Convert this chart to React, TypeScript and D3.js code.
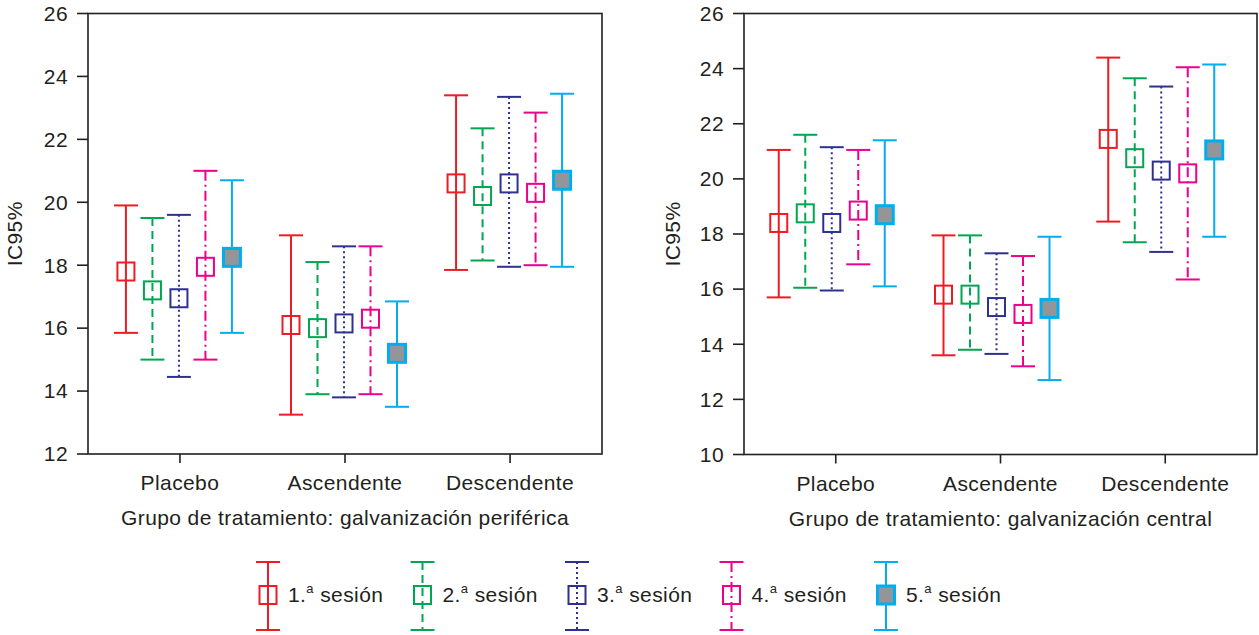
import React from "react";
import * as d3 from "d3";

const categories = ["Placebo", "Ascendente", "Descendente"];
const sessionNums = ["1.", "2.", "3.", "4.", "5."];
const sessions = ["1.ª sesión", "2.ª sesión", "3.ª sesión", "4.ª sesión", "5.ª sesión"];
const colors = ["#ED1C24", "#00A651", "#2E3192", "#EC008C", "#00AEEF"];
const dashes = ["none", "8,5", "2,3", "10,4,2,4", "none"];

// Left panel: galvanización periférica (rows = session, cols = category)
const leftMean = [
  [17.8, 16.1, 20.6],
  [17.2, 16.0, 20.2],
  [16.95, 16.15, 20.6],
  [17.95, 16.3, 20.3],
  [18.25, 15.2, 20.7],
];
const leftLow = [
  [15.85, 13.25, 17.85],
  [15.0, 13.9, 18.15],
  [14.45, 13.8, 17.95],
  [15.0, 13.9, 18.0],
  [15.85, 13.5, 17.95],
];
const leftHigh = [
  [19.9, 18.95, 23.4],
  [19.5, 18.1, 22.35],
  [19.6, 18.6, 23.35],
  [21.0, 18.6, 22.85],
  [20.7, 16.85, 23.45],
];

// Right panel: galvanización central
const rightMean = [
  [18.4, 15.8, 21.45],
  [18.75, 15.8, 20.75],
  [18.4, 15.35, 20.3],
  [18.85, 15.1, 20.2],
  [18.7, 15.3, 21.05],
];
const rightLow = [
  [15.7, 13.6, 18.45],
  [16.05, 13.8, 17.7],
  [15.95, 13.65, 17.35],
  [16.9, 13.2, 16.35],
  [16.1, 12.7, 17.9],
];
const rightHigh = [
  [21.05, 17.95, 24.4],
  [21.6, 17.95, 23.65],
  [21.15, 17.3, 23.35],
  [21.05, 17.2, 24.05],
  [21.4, 17.9, 24.15],
];

const leftTicks = [12, 14, 16, 18, 20, 22, 24, 26];
const rightTicks = [10, 12, 14, 16, 18, 20, 22, 24, 26];

const FONT = "'Liberation Sans', Arial, Helvetica, sans-serif";
const FS = 21;
const LS = 0.4;
const AXIS = "#231F20";
const BOX_W = 17;
const BOX_H = 18;
const CAP_W = 24;

function Glyph({ i, x, yTop, yMid, yBot }: { i: number; x: number; yTop: number; yMid: number; yBot: number }) {
  const c = colors[i];
  const filled = i === 4;
  return (
    <g>
      <line x1={x} x2={x} y1={yTop} y2={yBot} stroke={c} strokeWidth={2} strokeDasharray={dashes[i]} />
      <line x1={x - CAP_W / 2} x2={x + CAP_W / 2} y1={yTop} y2={yTop} stroke={c} strokeWidth={2} />
      <line x1={x - CAP_W / 2} x2={x + CAP_W / 2} y1={yBot} y2={yBot} stroke={c} strokeWidth={2} />
      <rect
        x={x - BOX_W / 2}
        y={yMid - BOX_H / 2}
        width={BOX_W}
        height={BOX_H}
        fill={filled ? "#939598" : "none"}
        stroke={c}
        strokeWidth={filled ? 3 : 2}
      />
    </g>
  );
}

function Panel({
  left, right, top, bottom, domain, ticks, mean, low, high, title, ylabX, shift,
}: {
  left: number; right: number; top: number; bottom: number; domain: [number, number]; ticks: number[];
  mean: number[][]; low: number[][]; high: number[][]; title: string; ylabX: number; shift: number;
}) {
  const y = d3.scaleLinear().domain(domain).range([bottom, top]);
  const x = d3.scalePoint<string>().domain(categories).range([left, right]).padding(0.557);
  const off = d3.scalePoint<string>().domain(sessions).range([-53 + shift, 53 + shift]);
  return (
    <g fontFamily={FONT} letterSpacing={LS}>
      {sessions.map((s, i) =>
        categories.map((c, j) => (
          <Glyph
            key={s + c}
            i={i}
            x={(x(c) as number) + (off(s) as number)}
            yTop={y(high[i][j])}
            yMid={y(mean[i][j])}
            yBot={y(low[i][j])}
          />
        ))
      )}
      <rect x={left} y={top} width={right - left} height={bottom - top} fill="none" stroke={AXIS} strokeWidth={1.6} />
      {ticks.map((t) => (
        <g key={t}>
          <line x1={left - 11} x2={left} y1={y(t)} y2={y(t)} stroke={AXIS} strokeWidth={1.6} />
          <text x={left - 20} y={y(t)} dy="0.35em" textAnchor="end" fontSize={FS} fill={AXIS}>
            {t}
          </text>
        </g>
      ))}
      {categories.map((c) => (
        <g key={c}>
          <line x1={x(c)} x2={x(c)} y1={bottom} y2={bottom + 9} stroke={AXIS} strokeWidth={1.6} />
          <text x={x(c)} y={bottom + 36} textAnchor="middle" fontSize={FS} fill={AXIS}>
            {c}
          </text>
        </g>
      ))}
      <text x={(left + right) / 2} y={bottom + 71} textAnchor="middle" fontSize={FS} fill={AXIS}>
        {title}
      </text>
      <text
        transform={`translate(${ylabX},${(top + bottom) / 2}) rotate(-90)`}
        textAnchor="middle"
        dy="0.35em"
        fontSize={FS}
        fill={AXIS}
      >
        IC95%
      </text>
    </g>
  );
}

export default function App() {
  const legX = d3.scaleLinear().domain([0, 4]).range([268, 886]);
  return (
    <svg width={1259} height={635} style={{ position: "absolute", left: 0, top: 0, background: "#fff" }}>
      <rect width={1259} height={635} fill="#fff" />
      <Panel
        left={88} right={602} top={13.5} bottom={454}
        domain={[12, 26]} ticks={leftTicks}
        mean={leftMean} low={leftLow} high={leftHigh}
        title="Grupo de tratamiento: galvanización periférica" ylabX={15} shift={-1}
      />
      <Panel
        left={744} right={1257} top={13.5} bottom={454.5}
        domain={[10, 26]} ticks={rightTicks}
        mean={rightMean} low={rightLow} high={rightHigh}
        title="Grupo de tratamiento: galvanización central" ylabX={673} shift={-4}
      />
      <g fontFamily={FONT} letterSpacing={LS}>
        {sessions.map((s, i) => (
          <g key={s}>
            <Glyph i={i} x={legX(i)} yTop={562} yMid={595} yBot={630} />
            <text x={legX(i) + 20} y={602} fontSize={FS} fill={AXIS}>
              {sessionNums[i]}
              <tspan fontSize={13} dy={-9}>a</tspan>
              <tspan dy={9}>{" sesión"}</tspan>
            </text>
          </g>
        ))}
      </g>
    </svg>
  );
}
